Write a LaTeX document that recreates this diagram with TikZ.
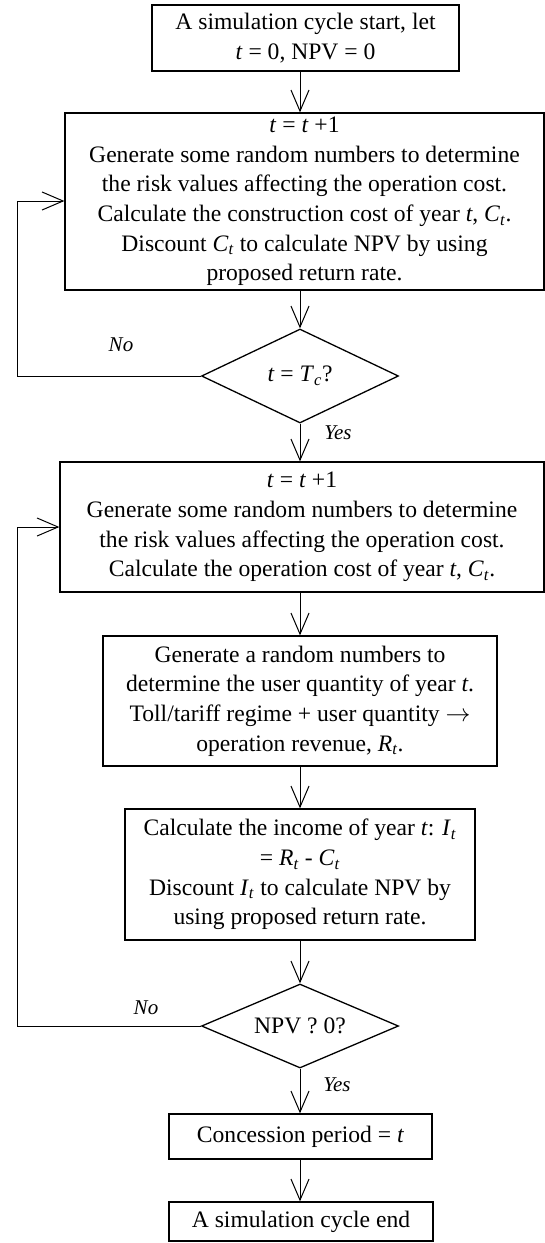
\documentclass[tikz,border=0pt]{standalone}
\usepackage{fontspec}
\setmainfont{Liberation Serif}
\usetikzlibrary{arrows.meta,shapes.geometric,calc}
\newcommand{\vi}[1]{\textit{#1}}
\newcommand{\sbi}[2]{\textit{#1}\textsubscript{\textit{#2}}}
\begin{document}
\begin{tikzpicture}[x=1pt,y=-1pt,
  txt/.style={font=\fontsize{23.6}{29.6}\selectfont},
  box/.style={txt, draw, line width=1.3pt, inner sep=0pt, align=center},
  dec/.style={txt, draw, diamond, line width=1.3pt, inner sep=0pt, shape aspect=2.1},
  lbl/.style={font=\fontsize{21}{25}\selectfont\itshape, inner sep=0pt},
  arr/.style={line width=1pt, -{Straight Barb[length=21pt,width=18pt,line width=1pt]}},
  lp/.style={line width=1pt}]
\useasboundingbox (0,0) rectangle (545,1243);

\node[box, minimum width=307pt, minimum height=66pt] (b1) at (305.5,38)
  {A simulation cycle start, let\\\vi{t} = 0, NPV = 0};
\node[box, minimum width=479pt, minimum height=177pt] (b2) at (304.5,201.5)
  {\vi{t} = \vi{t} +1\\Generate some random numbers to determine\\the risk values affecting the operation cost.\\Calculate the construction cost of year \vi{t}, \sbi{C}{t}.\\Discount \sbi{C}{t} to calculate NPV by using\\proposed return rate.};
\node[dec, minimum width=197pt, minimum height=94pt] (d1) at (300,376)
  {\vi{t} = \sbi{T}{c}?};
\node[box, minimum width=484pt, minimum height=130pt] (b3) at (302,527)
  {\vi{t} = \vi{t} +1\\Generate some random numbers to determine\\the risk values affecting the operation cost.\\Calculate the operation cost of year \vi{t}, \sbi{C}{t}.};
\node[box, minimum width=394pt, minimum height=130pt] (b4) at (300,701)
  {Generate a random numbers to\\determine the user quantity of year \vi{t}.\\Toll/tariff regime + user quantity $\rightarrow$\\operation revenue, \sbi{R}{t}.};
\node[box, minimum width=350pt, minimum height=131pt] (b5) at (300,874.5)
  {Calculate the income of year \vi{t}: \sbi{I}{t}\\= \sbi{R}{t} - \sbi{C}{t}\\Discount \sbi{I}{t} to calculate NPV by\\using proposed return rate.};
\node[dec, minimum width=197pt, minimum height=84pt] (d2) at (300,1026)
  {NPV ? 0?};
\node[box, minimum width=263pt, minimum height=45pt] (b6) at (300.5,1136.5)
  {Concession period = \vi{t}};
\node[box, minimum width=264pt, minimum height=39pt] (b7) at (301,1221.5)
  {A simulation cycle end};

\node[lbl] (no1) at (121,345) {No};
\node[lbl] (yes1) at (338,433) {Yes};
\node[lbl] (no2) at (146,1008) {No};
\node[lbl] (yes2) at (337,1085) {Yes};

\coordinate (l1) at (17,201);
\coordinate (l2) at (17,527);

\draw[arr] (b1.south -| d1.north) -- (b2.north -| d1.north);
\draw[arr] (b2.south -| d1.north) -- (d1.north);
\draw[arr] (d1.south) -- (d1.south |- b3.north);
\draw[arr] (b3.south -| d1.south) -- (b4.north);
\draw[arr] (b4.south) -- (b5.north);
\draw[arr] (b5.south) -- (d2.north);
\draw[arr] (d2.south) -- (d2.south |- b6.north);
\draw[arr] (b6.south -| d2.south) -- (b7.north -| d2.south);
\draw[arr] (d1.west) -| (l1) -- (l1 -| b2.west);
\draw[arr] (d2.west) -| (l2) -- (l2 -| b3.west);
\end{tikzpicture}
\end{document}
